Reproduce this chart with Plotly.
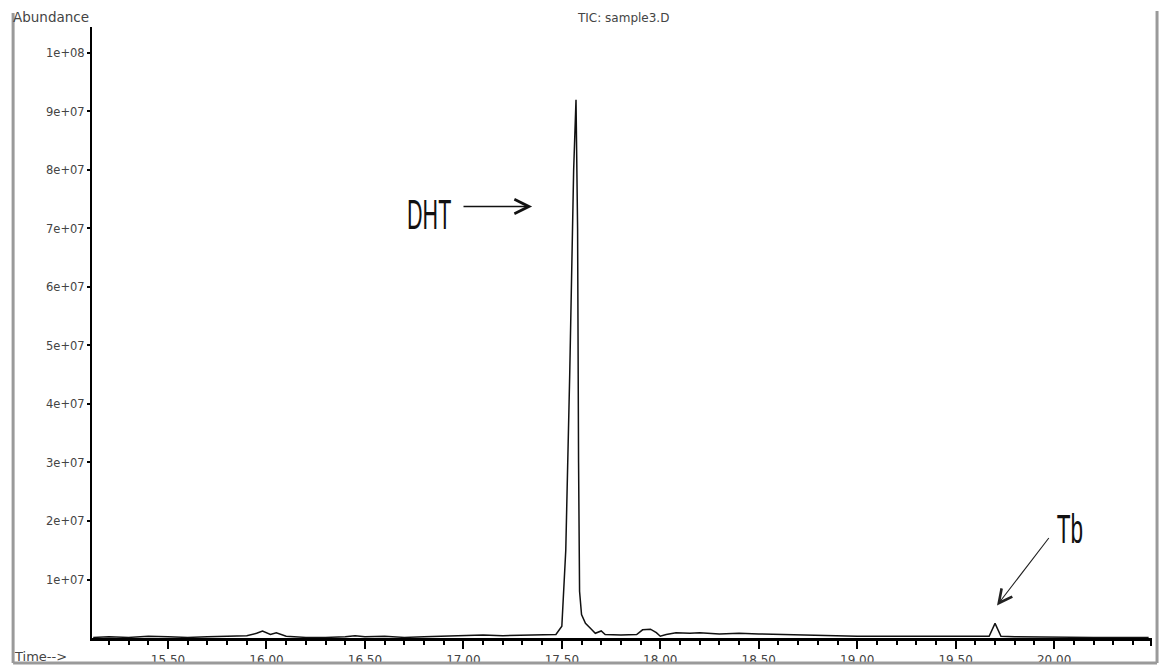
import plotly.graph_objects as go

# Total ion chromatogram, sample3.D
time_min = [
    15.12, 15.20, 15.30, 15.40, 15.50, 15.60, 15.70, 15.80, 15.90, 15.95,
    15.98, 16.02, 16.05, 16.10, 16.20, 16.30, 16.40, 16.45, 16.50, 16.60,
    16.70, 16.80, 16.90, 17.00, 17.10, 17.20, 17.30, 17.40, 17.47, 17.50,
    17.52, 17.54, 17.56, 17.572, 17.58, 17.585, 17.59, 17.60, 17.62, 17.65,
    17.67, 17.70, 17.72, 17.80, 17.88, 17.91, 17.95, 17.98, 18.00, 18.03,
    18.08, 18.15, 18.20, 18.30, 18.40, 18.50, 18.60, 18.70, 18.80, 18.90,
    19.00, 19.20, 19.40, 19.60, 19.67, 19.70, 19.73, 19.80, 20.00, 20.20,
    20.48,
]
abundance = [
    1.0e5, 2.0e5, 1.0e5, 3.0e5, 2.0e5, 1.0e5, 2.0e5, 3.0e5, 4.0e5, 8.0e5,
    1.2e6, 6.0e5, 9.0e5, 3.0e5, 1.0e5, 1.0e5, 2.0e5, 4.0e5, 2.0e5, 3.0e5,
    1.0e5, 2.0e5, 3.0e5, 4.0e5, 5.0e5, 4.0e5, 5.0e5, 5.0e5, 6.0e5, 2.0e6,
    1.5e7, 4.5e7, 8.0e7, 9.2e7, 7.0e7, 3.0e7, 8.0e6, 4.0e6, 2.5e6, 1.5e6,
    8.0e5, 1.2e6, 6.0e5, 5.0e5, 6.0e5, 1.4e6, 1.5e6, 9.0e5, 3.0e5, 6.0e5,
    9.0e5, 8.0e5, 9.0e5, 7.0e5, 8.0e5, 7.0e5, 6.0e5, 5.0e5, 4.0e5, 3.0e5,
    3.0e5, 3.0e5, 3.0e5, 2.0e5, 3.0e5, 2.5e6, 3.0e5, 2.0e5, 1.0e5, 1.0e5,
    1.0e5,
]

y_tick_vals = [1e7, 2e7, 3e7, 4e7, 5e7, 6e7, 7e7, 8e7, 9e7, 1e8]
y_tick_text = ["1e+07", "2e+07", "3e+07", "4e+07", "5e+07",
               "6e+07", "7e+07", "8e+07", "9e+07", "1e+08"]

x_range = [15.114, 20.492]
y_range = [0, 1.0444e8]

sans = "DejaVu Sans, Verdana, sans-serif"
text_grey = "#444444"
hand_font = dict(family="Liberation Sans, Arial, sans-serif", size=43, color="#111111")

fig = go.Figure()
fig.add_trace(go.Scatter(
    x=time_min, y=abundance, mode="lines",
    line=dict(color="#111111", width=1.5),
    hoverinfo="skip", showlegend=False,
))

fig.update_layout(
    width=1164, height=669,
    margin=dict(l=92, r=13, t=27, b=31),
    paper_bgcolor="white", plot_bgcolor="white",
    xaxis=dict(
        range=x_range, showgrid=False, zeroline=False, automargin=False,
        showline=True, linecolor="black", linewidth=2.5,
        tick0=15.5, dtick=0.5, tickformat=".2f",
        ticks="outside", ticklen=8, tickwidth=1.5, tickcolor="black",
        ticklabelstandoff=1,
        tickfont=dict(family=sans, size=12, color=text_grey),
        minor=dict(dtick=0.1, tick0=15.5, ticks="outside", ticklen=4,
                   tickwidth=1.5, tickcolor="black", showgrid=False),
    ),
    yaxis=dict(
        range=y_range, showgrid=False, zeroline=False, automargin=False,
        showline=True, linecolor="black", linewidth=2,
        tickvals=y_tick_vals, ticktext=y_tick_text,
        ticks="outside", ticklen=3, tickwidth=1.5, tickcolor="black",
        tickfont=dict(family=sans, size=11.5, color=text_grey),
    ),
)

# axis captions and title
fig.add_annotation(text="TIC: sample3.D", xref="paper", yref="paper",
                   x=0.501, y=1.0, yshift=9, showarrow=False,
                   xanchor="center", yanchor="middle",
                   font=dict(family=sans, size=12, color=text_grey))
fig.add_annotation(text="Abundance", xref="paper", yref="paper",
                   x=-0.0765, y=1.0, yshift=10, showarrow=False,
                   xanchor="left", yanchor="middle",
                   font=dict(family=sans, size=13.5, color=text_grey))
fig.add_annotation(text="Time-->", xref="paper", yref="paper",
                   x=-0.0755, y=0.0, yshift=-18, showarrow=False,
                   xanchor="left", yanchor="middle",
                   font=dict(family=sans, size=13, color=text_grey))

# peak labels
fig.add_annotation(text="DHT", x=16.823, y=7.25e7, showarrow=False,
                   xanchor="center", yanchor="middle", font=hand_font)
fig.add_annotation(x=17.349, y=7.376e7, ax=16.993, ay=7.376e7,
                   axref="x", ayref="y", text="", showarrow=True,
                   arrowhead=5, arrowsize=2.2, arrowwidth=1.3, arrowcolor="#111111")
fig.add_annotation(text="Tb", x=20.081, y=1.86e7, showarrow=False,
                   xanchor="center", yanchor="middle",
                   font=dict(hand_font, size=41))
fig.add_annotation(x=19.710, y=0.556e7, ax=19.979, ay=1.735e7,
                   axref="x", ayref="y", text="", showarrow=True,
                   arrowhead=5, arrowsize=2.4, arrowwidth=1.1, arrowcolor="#222222")

# window frame
frame = dict(color="#9a9a9a", width=3)
fig.add_shape(type="line", xref="paper", yref="paper",
              x0=-0.0745, x1=-0.0745, y0=-0.0409, y1=1.0229, line=frame)
fig.add_shape(type="line", xref="paper", yref="paper",
              x0=-0.0745, x1=1.0057, y0=-0.0409, y1=-0.0409, line=frame)
fig.add_shape(type="line", xref="paper", yref="paper",
              x0=1.0057, x1=1.0057, y0=-0.0409, y1=1.0262, line=frame)
# end tick closing the time axis
fig.add_shape(type="line", xref="paper", yref="paper",
              x0=1.0, x1=1.0, y0=0.0, y1=-0.0131,
              line=dict(color="black", width=2))

# hand-lettered labels are tall and narrow: squeeze them horizontally
narrow_labels = """
var gd = document.getElementById('{plot_id}');
var squeeze = {'DHT': 0.5, 'Tb': 0.55};
gd.querySelectorAll('text.annotation-text').forEach(function (t) {
    var k = squeeze[t.textContent];
    if (k) {
        t.style.transformBox = 'fill-box';
        t.style.transformOrigin = 'center';
        t.style.transform = 'scaleX(' + k + ')';
    }
});
"""

fig.write_html("out.html", config={"displayModeBar": False}, post_script=narrow_labels)
